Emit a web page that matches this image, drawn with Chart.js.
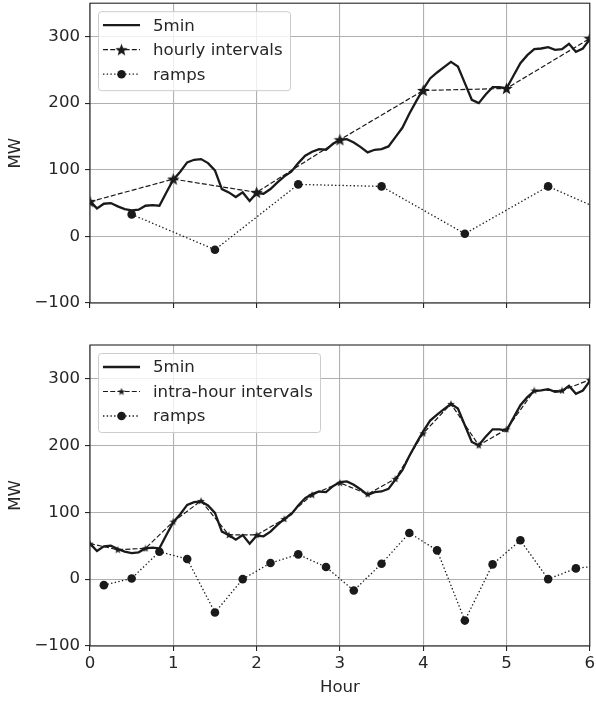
<!DOCTYPE html>
<html>
<head>
<meta charset="utf-8">
<script src="https://cdn.jsdelivr.net/npm/chart.js@4.4.1/dist/chart.umd.min.js"></script>
<style>
  html, body { margin: 0; padding: 0; background: #fff; overflow: hidden; }
  #wrap { position: relative; width: 596px; height: 701px; overflow: hidden; }
  #top-chart { position: absolute; left: 0; top: -3px; }
  #bottom-chart { position: absolute; left: 0; top: 330px; }
</style>
</head>
<body>
<div id="wrap">
  <canvas id="top-chart" width="596" height="333"></canvas>
  <canvas id="bottom-chart" width="596" height="371"></canvas>
</div>
<script>
// 5 minute values, 0h .. 6h
const fiveMinMW = [
  53, 42, 49, 50, 45, 41, 39, 40, 46, 47, 46, 66,
  85, 97, 111, 115, 116, 110, 99, 71, 66, 59, 66, 53,
  65, 64, 71, 81, 90, 97, 110, 121, 127, 131, 130, 139,
  145, 146, 141, 134, 126, 130, 131, 135, 149, 163, 184, 203,
  221, 237, 246, 254, 262, 255, 230, 205, 200, 213, 224, 224,
  222, 241, 260, 272, 281, 282, 284, 280, 281, 289, 277, 282,
  296
];

const hourlyHours = [0, 1, 2, 3, 4, 5, 6];
const hourlyMW = [52, 86, 66, 145, 219, 222, 297];
const hourlyRampHours = [0.5, 1.5, 2.5, 3.5, 4.5, 5.5, 6.5];
const hourlyRampMW = [33, -20, 78, 75, 4, 75, 20];

const intraHours = [0, 1/3, 2/3, 1, 4/3, 5/3, 2, 7/3, 8/3, 3, 10/3, 11/3, 4, 13/3, 14/3, 5, 16/3, 17/3, 6];
const intraMW = [53, 44, 46, 86, 117, 66, 66, 90, 126, 144, 127, 150, 218, 262, 200, 224, 282, 282, 298];
const intraRampHours = [1/6, 0.5, 5/6, 7/6, 1.5, 11/6, 13/6, 2.5, 17/6, 19/6, 3.5, 23/6, 25/6, 4.5, 29/6, 31/6, 5.5, 35/6, 37/6];
const intraRampMW = [-9, 1, 41, 30, -50, 0, 24, 37, 18, -17, 23, 69, 43, -62, 22, 58, 0, 16, 21];

const hourTicks = [0, 1, 2, 3, 4, 5, 6];
const mwTicks = [-100, 0, 100, 200, 300];
const mwTickLabels = ["\u2212100", "0", "100", "200", "300"];

const ink = "#1a1a1a";
const textColor = "#262626";
const font = { family: "DejaVu Sans", size: 16.6 };

function makeStar(size) {
  const c = document.createElement("canvas");
  c.width = size;
  c.height = size;
  const g = c.getContext("2d");
  const r = size / 2, ri = r * 0.42;
  g.beginPath();
  for (let i = 0; i < 10; i++) {
    const a = -Math.PI / 2 + i * Math.PI / 5;
    const rr = i % 2 ? ri : r;
    g.lineTo(r + rr * Math.cos(a), r + rr * Math.sin(a) + r * 0.08);
  }
  g.closePath();
  g.fillStyle = ink;
  g.fill();
  return c;
}

function zip(xs, ys) {
  return xs.map((x, i) => ({ x, y: ys[i] }));
}

const framePlugin = {
  id: "frame",
  afterDatasetsDraw(chart) {
    const { ctx, chartArea: a } = chart;
    ctx.save();
    ctx.strokeStyle = textColor;
    ctx.lineWidth = 1.1;
    ctx.strokeRect(a.left, a.top, a.right - a.left, a.bottom - a.top);
    ctx.restore();
  }
};

const boxLegend = {
  id: "boxLegend",
  afterDraw(chart, args, opts) {
    const { ctx, chartArea: a } = chart;
    const x0 = a.left + 8.5, y0 = a.top + 8.5;
    const w = opts.width, h = 79, rad = 3;
    ctx.save();
    ctx.beginPath();
    ctx.roundRect(x0, y0, w, h, rad);
    ctx.fillStyle = "rgba(255,255,255,0.8)";
    ctx.fill();
    ctx.strokeStyle = "#cccccc";
    ctx.lineWidth = 1;
    ctx.stroke();

    ctx.font = font.size + "px " + font.family;
    ctx.textBaseline = "middle";
    ctx.fillStyle = textColor;
    chart.data.datasets.forEach((ds, i) => {
      const y = a.top + 22 + i * 24.5;
      const lx0 = a.left + 13, lx1 = a.left + 50, cx = (lx0 + lx1) / 2;
      ctx.setLineDash(ds.borderDash || []);
      ctx.lineWidth = ds.borderWidth;
      ctx.strokeStyle = ds.borderColor;
      ctx.beginPath();
      ctx.moveTo(lx0, y);
      ctx.lineTo(lx1, y);
      ctx.stroke();
      ctx.setLineDash([]);
      if (ds.pointStyle instanceof HTMLCanvasElement) {
        const img = ds.pointStyle;
        ctx.drawImage(img, cx - img.width / 2, y - img.height / 2);
      } else if (ds.pointRadius > 0) {
        ctx.beginPath();
        ctx.arc(cx, y, ds.pointRadius, 0, Math.PI * 2);
        ctx.fillStyle = ds.pointBackgroundColor;
        ctx.fill();
      }
      ctx.fillStyle = textColor;
      ctx.fillText(ds.label, a.left + 63, y + 1);
    });
    ctx.restore();
  }
};

function gridOpts() {
  return {
    color: "#b0b0b0",
    lineWidth: 1.1,
    tickLength: 5,
    tickColor: textColor,
    tickWidth: 1.1
  };
}

function makeChart(canvas, cfg) {
  return new Chart(canvas.getContext("2d"), {
    type: "line",
    data: {
      datasets: [
        {
          label: "5min",
          data: fiveMinMW.map((v, i) => ({ x: i / 12, y: v })),
          borderColor: ink,
          borderWidth: 2.3,
          pointRadius: 0,
          tension: 0,
          order: 3
        },
        {
          label: cfg.intervalLabel,
          data: zip(cfg.intervalHours, cfg.intervalMW),
          borderColor: ink,
          borderWidth: 1.2,
          borderDash: [5, 2.2],
          pointStyle: cfg.star,
          pointRadius: 5,
          tension: 0,
          order: 2
        },
        {
          label: "ramps",
          data: zip(cfg.rampHours, cfg.rampMW),
          borderColor: ink,
          borderWidth: 1.3,
          borderDash: [1.4, 2.3],
          pointStyle: "circle",
          pointRadius: 4.3,
          pointBorderWidth: 0,
          pointBackgroundColor: ink,
          tension: 0,
          order: 1
        }
      ]
    },
    options: {
      responsive: false,
      animation: false,
      events: [],
      layout: { padding: { top: cfg.padTop, right: 5, left: 0, bottom: 0 } },
      plugins: {
        legend: { display: false },
        tooltip: { enabled: false },
        boxLegend: { width: cfg.legendWidth }
      },
      scales: {
        x: {
          type: "linear",
          min: 0,
          max: 6,
          afterBuildTicks: s => { s.ticks = hourTicks.map(v => ({ value: v })); },
          afterFit: s => { s.height = cfg.xHeight; s.paddingLeft = 0; s.paddingRight = 0; },
          ticks: { display: cfg.showX, color: textColor, font, padding: 3, maxRotation: 0, autoSkip: false },
          grid: gridOpts(),
          border: { display: false },
          title: { display: cfg.showX, text: "Hour", color: textColor, font, padding: { top: 0, bottom: 3 } }
        },
        y: {
          type: "linear",
          min: -100,
          max: 350,
          afterBuildTicks: s => { s.ticks = mwTicks.map(v => ({ value: v })); },
          afterFit: s => { s.width = 90; s.paddingTop = 0; s.paddingBottom = 0; },
          ticks: {
            color: textColor,
            font,
            padding: 5,
            callback: v => mwTickLabels[mwTicks.indexOf(v)]
          },
          grid: gridOpts(),
          border: { display: false },
          title: { display: true, text: "MW", color: textColor, font, padding: { top: 6, bottom: 0 } }
        }
      }
    },
    plugins: [framePlugin, boxLegend]
  });
}

makeChart(document.getElementById("top-chart"), {
  intervalLabel: "hourly intervals",
  intervalHours: hourlyHours,
  intervalMW: hourlyMW,
  rampHours: hourlyRampHours,
  rampMW: hourlyRampMW,
  star: makeStar(13),
  legendWidth: 192,
  padTop: 0,
  xHeight: 27,
  showX: false
});

makeChart(document.getElementById("bottom-chart"), {
  intervalLabel: "intra-hour intervals",
  intervalHours: intraHours,
  intervalMW: intraMW,
  rampHours: intraRampHours,
  rampMW: intraRampMW,
  star: makeStar(8),
  legendWidth: 222,
  padTop: 15,
  xHeight: 55,
  showX: true
});
</script>
</body>
</html>
